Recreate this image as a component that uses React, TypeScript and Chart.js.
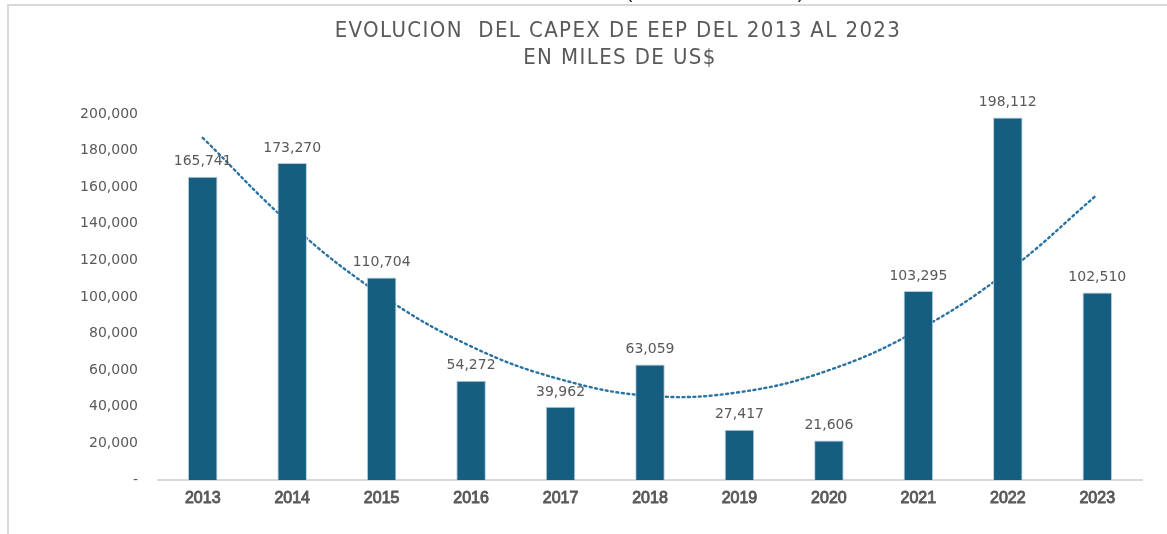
import { useEffect, useRef } from 'react';
import { Chart, registerables } from 'chart.js';

Chart.register(...registerables);

const years = ['2013', '2014', '2015', '2016', '2017', '2018', '2019', '2020', '2021', '2022', '2023'];
const capex = [165741, 173270, 110704, 54272, 39962, 63059, 27417, 21606, 103295, 198112, 102510];
const trend = [187000, 139000, 101000, 73000, 55000, 46000, 48000, 60000, 82000, 114000, 156000];
const titleLines = ['EVOLUCION  DEL CAPEX DE EEP DEL 2013 AL 2023', 'EN MILES DE US$'];
const yMax = 200000;
const yStep = 20000;

const W = 1167;
const H = 534;

export default function App() {
  const ref = useRef<HTMLCanvasElement | null>(null);

  useEffect(() => {
    if (!ref.current) return;

    const titlePlugin = {
      id: 'customTitle',
      afterDraw(chart: any) {
        const ctx = chart.ctx;
        ctx.save();
        ctx.fillStyle = '#595959';
        ctx.textAlign = 'center';
        ctx.textBaseline = 'middle';
        ctx.font = '22px "Liberation Sans Narrow", "DejaVu Sans Condensed", sans-serif';
        try {
          (ctx as any).letterSpacing = '1.4px';
        } catch (e) {}
        ctx.fillText(titleLines[0], 618, 31);
        ctx.fillText(titleLines[1], 620, 58);
        try {
          (ctx as any).letterSpacing = '0px';
        } catch (e) {}
        ctx.fillStyle = '#222';
        ctx.font = '20px "Liberation Sans", sans-serif';
        ctx.textBaseline = 'alphabetic';
        ctx.fillText('(', 629, -2);
        ctx.fillText(')', 801, -2);
        ctx.restore();
      },
    };

    const labelPlugin = {
      id: 'valueLabels',
      afterDatasetsDraw(chart: any) {
        const ctx = chart.ctx;
        const meta = chart.getDatasetMeta(0);
        ctx.save();
        ctx.fillStyle = '#595959';
        ctx.textAlign = 'center';
        ctx.textBaseline = 'middle';
        ctx.font = '14px "DejaVu Sans", sans-serif';
        meta.data.forEach((bar: any, i: number) => {
          ctx.fillText(capex[i].toLocaleString('en-US'), bar.x, bar.y - 15);
        });
        ctx.restore();
      },
    };

    const chart = new Chart(ref.current, {
      type: 'bar',
      data: {
        labels: years,
        datasets: [
          {
            type: 'bar',
            data: capex,
            backgroundColor: '#165E80',
            borderColor: 'rgba(170,200,218,0.9)',
            borderWidth: 1,
            barPercentage: 0.33,
            categoryPercentage: 1,
            order: 1,
          },
          {
            type: 'line',
            data: trend,
            borderColor: '#2A73A0',
            borderWidth: 2.4,
            borderDash: [2, 3.5],
            borderCapStyle: 'round',
            pointRadius: 0,
            tension: 0.4,
            fill: false,
            order: 2,
          } as any,
        ],
      },
      options: {
        responsive: false,
        animation: false,
        layout: { padding: { top: 114, right: 25, bottom: 0, left: 0 } },
        plugins: {
          legend: { display: false },
          tooltip: { enabled: false },
          title: { display: false },
        },
        scales: {
          x: {
            grid: { display: false, drawTicks: false },
            border: { display: true, color: '#d9d9d9', width: 2 },
            ticks: {
              color: '#595959',
              padding: 9,
              textStrokeColor: '#595959',
              textStrokeWidth: 0.9,
              font: { family: '"Liberation Sans Narrow", sans-serif', size: 16, weight: 'normal' },
            } as any,
            afterFit: (s: any) => {
              s.height = 54;
            },
          },
          y: {
            min: 0,
            max: yMax,
            grid: { display: false, drawTicks: false },
            border: { display: false },
            ticks: {
              stepSize: yStep,
              color: '#595959',
              padding: 20,
              font: { family: '"DejaVu Sans", sans-serif', size: 14 },
              callback: (v: any) => (Number(v) === 0 ? '-' : Number(v).toLocaleString('en-US')),
            },
            afterFit: (s: any) => {
              s.width = 158;
            },
          },
        },
      },
      plugins: [titlePlugin, labelPlugin],
    });

    return () => chart.destroy();
  }, []);

  return (
    <div style={{ position: 'absolute', left: 0, top: 0, width: W, height: H, background: '#fff', overflow: 'hidden' }}>
      <div
        style={{
          position: 'absolute',
          left: 7,
          top: 4,
          width: W - 7,
          height: H - 4,
          boxSizing: 'border-box',
          borderTop: '2px solid #d9d9d9',
          borderLeft: '2px solid #d9d9d9',
        }}
      />
      <canvas ref={ref} width={W} height={H} style={{ position: 'absolute', left: 0, top: 0, width: W, height: H }} />
    </div>
  );
}
